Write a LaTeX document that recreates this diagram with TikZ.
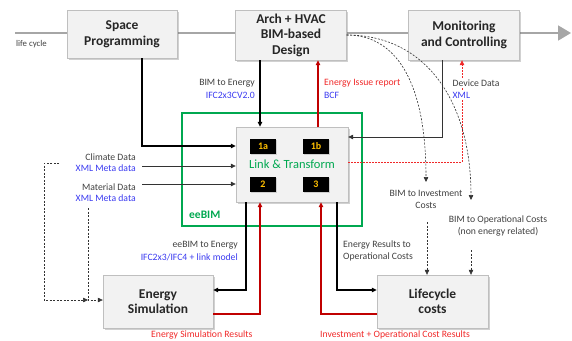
\documentclass[tikz,border=0pt]{standalone}
\usepackage{fontspec}
\setmainfont{Carlito}
\usetikzlibrary{arrows.meta,shadows,calc}
\definecolor{boxfill}{HTML}{F2F2F2}
\definecolor{lcgray}{HTML}{A6A6A6}
\definecolor{txtgray}{HTML}{404040}
\definecolor{lblue}{HTML}{3A3AF0}
\definecolor{lred}{HTML}{F02828}
\definecolor{dred}{HTML}{C00000}
\definecolor{eegreen}{HTML}{00A850}
\definecolor{numorange}{HTML}{FFC000}
\begin{document}
\begin{tikzpicture}[x=1pt,y=-1pt,
  bigbox/.style={draw=black!25, fill=boxfill, drop shadow={shadow xshift=1.5pt,shadow yshift=-1.5pt,opacity=0.3,fill=black!60},
    font=\bfseries\fontsize{13.5}{15.5}\selectfont, text=black!85, align=center, inner sep=0pt},
  lab/.style={font=\fontsize{9.7}{11}\selectfont, inner sep=0pt, text=txtgray},
  numbox/.style={fill=black, text=numorange, font=\bfseries\fontsize{10}{11}\selectfont, minimum width=26pt, minimum height=15pt, inner sep=0pt,
    drop shadow={shadow xshift=1pt,shadow yshift=-1pt,opacity=0.3}},
  tip/.style={-{Triangle[length=5pt,width=4.5pt]}},
  blk/.style={tip, line width=1.3pt, draw=black},
  redl/.style={tip, line width=1.3pt, draw=dred},
  thin/.style={tip, line width=0.7pt, draw=black!80},
  dsh/.style={tip, line width=0.6pt, draw=black!80, dash pattern=on 2pt off 1.5pt},
]
\useasboundingbox (0,0) rectangle (572,340);

% life cycle arrow
\coordinate (lcs) at (15,33);
\coordinate (lce) at (571,33);
\draw[line width=1.8pt, lcgray, -{Triangle[length=13pt,width=15pt]}] (lcs) -- (lce);
\node[lab, anchor=west, font=\fontsize{8.8}{10}\selectfont] (lclab) at (16,44) {life cycle};

% top boxes
\node[bigbox, minimum width=110pt, minimum height=48pt] (space) at (122,34) {Space\\Programming};
\node[bigbox, minimum width=111pt, minimum height=50pt] (arch) at (291,35) {Arch + HVAC\\BIM-based\\Design};
\node[bigbox, minimum width=111pt, minimum height=50pt] (mon) at (464,35) {Monitoring\\and Controlling};

% eeBIM green box
\draw[eegreen, line width=1.4pt] (182,113) rectangle (362,226);
\node[font=\bfseries\fontsize{11.5}{12}\selectfont, text=eegreen, anchor=west, inner sep=0pt] (eebim) at (189,215) {eeBIM};

% link box
\node[bigbox, minimum width=112pt, minimum height=75pt, font=\fontsize{12.5}{13}\selectfont, text=eegreen] (link) at (292,164.5) {Link \& Transform};
\node[numbox] (n1a) at (263,146.5) {1a};
\node[numbox] (n1b) at (316,146.5) {1b};
\node[numbox] (n2) at (263,184) {2};
\node[numbox] (n3) at (316,184) {3};

% bottom boxes
\node[bigbox, minimum width=110pt, minimum height=53pt] (esim) at (158,301.5) {Energy\\Simulation};
\node[bigbox, minimum width=111pt, minimum height=53pt] (lcc) at (432.5,301.5) {Lifecycle\\costs};

% connectors top
\draw[blk] ([xshift=20pt]space.south) |- ([yshift=18.5pt]link.west);
\draw[blk] ([xshift=-31pt]arch.south) -- ([xshift=-32pt]link.north);
\draw[redl] ([xshift=26pt]link.north) -- ([xshift=27pt]arch.south);
\draw[thin] ([xshift=-22pt]mon.south) |- ([yshift=27.5pt]link.east);
\draw[tip, line width=0.7pt, draw=lred, dash pattern=on 1.5pt off 1.5pt] ([yshift=2.5pt]link.east) -| ([xshift=-2pt]mon.south);

\node[lab, anchor=east] (b2e) at (255,83) {BIM to Energy};
\node[lab, anchor=east, text=lblue] (ifc1) at (255,95) {IFC2x3CV2.0};
\node[lab, anchor=west, text=lred] (eir) at (324,83) {Energy Issue report};
\node[lab, anchor=west, text=lblue] (bcf) at (324,95) {BCF};
\node[lab, anchor=west, fill=white, inner sep=0.5pt] (dd) at (452,83) {Device Data};
\node[lab, anchor=west, text=lblue, fill=white, inner sep=0.5pt] (xml) at (452,95) {XML};

% left inputs
\node[lab, anchor=east] (clim) at (136,157) {Climate Data};
\node[lab, anchor=east, text=lblue] (climx) at (136,168) {XML Meta data};
\node[lab, anchor=east] (mat) at (136,187) {Material Data};
\node[lab, anchor=east, text=lblue] (matx) at (136,198) {XML Meta data};
\coordinate (cin) at (142,166);
\coordinate (min) at (142,184);
\draw[thin] (cin) -- (cin -| link.west);
\draw[thin] (min) -- (min -| link.west);

% left dashed
\coordinate (dA) at (59,163);
\coordinate (dB) at (88,208);
\coordinate (dC) at (88,300);
\draw[dsh] (dA) -- (44,163) |- (dC);
\draw[dsh] (dB) -- (dC) -- (dC -| esim.west);

% bottom connectors
\draw[blk] ([xshift=-46pt]link.south) |- ([yshift=11.5pt]esim.east);
\draw[redl] ([yshift=-12.5pt]esim.east) -| ([xshift=-32pt]link.south);
\draw[blk] ([xshift=45pt]link.south) |- ([yshift=11.5pt]lcc.west);
\draw[redl] ([yshift=-12.5pt]lcc.west) -| ([xshift=29pt]link.south);

\node[lab, anchor=east] (e2e) at (238,245) {eeBIM to Energy};
\node[lab, anchor=east, text=lblue] (ifc2) at (238,257) {IFC2x3/IFC4 + link model};
\node[lab, anchor=west, align=left, font=\fontsize{9.7}{12}\selectfont] (er) at (343,251) {Energy Results to\\Operational Costs};
\node[lab, anchor=west, text=lred] (esr) at (151,335) {Energy Simulation Results};
\node[lab, anchor=west, text=lred] (ior) at (320,335) {Investment + Operational Cost Results};

% dashed curves to costs
\coordinate (bic) at (426,182);
\coordinate (boc) at (471,200);
\draw[dsh] (arch.east) .. controls (395,35) and (426,80) .. (bic);
\draw[dsh] (arch.east) .. controls (425,35) and (471,100) .. (boc);
\node[lab, align=center, font=\fontsize{9.7}{12}\selectfont] (bi) at (426,199) {BIM to Investment\\Costs};
\node[lab, align=center, font=\fontsize{9.7}{12}\selectfont] (bo) at (498,226) {BIM to Operational Costs\\(non energy related)};
\coordinate (bi2) at (427,222);
\coordinate (bo2) at (471,250);
\draw[dsh] (bi2) -- (bi2 |- lcc.north);
\draw[dsh] (bo2) -- (bo2 |- lcc.north);
\end{tikzpicture}
\end{document}
